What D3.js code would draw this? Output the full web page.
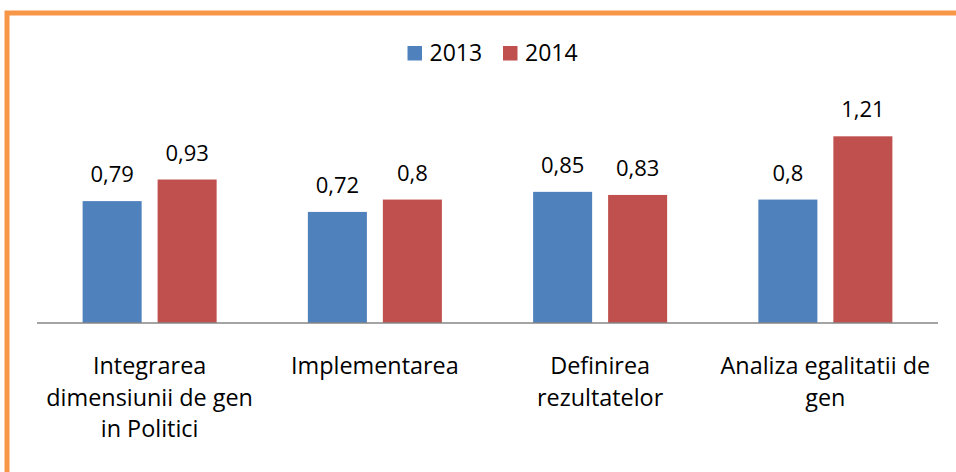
<!DOCTYPE html>
<html>
<head>
<meta charset="utf-8">
<script src="https://cdn.jsdelivr.net/npm/d3@7"></script>
<style>
  body { margin: 0; background: #fff; }
  svg text { font-family: "Open Sans", "Noto Sans", sans-serif; fill: #000; }
</style>
</head>
<body>
<svg id="chart" width="956" height="472"></svg>
<script>
// data
var categories = ["Integrarea dimensiunii de gen in Politici", "Implementarea", "Definirea rezultatelor", "Analiza egalitatii de gen"];
var categoryLines = [
  ["Integrarea", "dimensiunii de gen", "in Politici"],
  ["Implementarea"],
  ["Definirea", "rezultatelor"],
  ["Analiza egalitatii de", "gen"]
];
var seriesNames = ["2013", "2014"];
var values2013 = [0.79, 0.72, 0.85, 0.8];
var values2014 = [0.93, 0.8, 0.83, 1.21];
var colors = ["#4F81BD", "#C0504D"];

var svg = d3.select("svg#chart");

//Orange frame (top and left only visible)
svg.append("path")
    .attr("d", "M7,472 V13 H956")
    .attr("fill", "none")
    .attr("stroke", "#F79646")
    .attr("stroke-width", 5);

var baseY = 323, left = 37, right = 938;

var x0 = d3.scaleBand()
    .domain(categories)
    .range([left, right])
    .paddingInner(0.405)
    .paddingOuter(0.2025);

var x1 = d3.scaleBand()
    .domain(seriesNames)
    .range([0, x0.bandwidth()])
    .paddingInner(0.213);

var y = d3.scaleLinear()
    .domain([0, 1.4])
    .range([baseY, baseY - 216]);

//Build rows for each category
var rows = categories.map(function (c, i) {
  return { cat: c, vals: [values2013[i], values2014[i]] };
});

var groups = svg.selectAll(".grp")
  .data(rows)
  .enter().append("g")
    .attr("class", "grp")
    .attr("transform", function (d) { return "translate(" + x0(d.cat) + ",0)"; });

var bars = groups.selectAll("g.bar")
  .data(function (d) { return d.vals.map(function (v, j) { return { s: seriesNames[j], v: v, j: j }; }); })
  .enter().append("g")
    .attr("class", "bar");

bars.append("rect")
    .attr("x", function (d) { return x1(d.s); })
    .attr("y", function (d) { return y(d.v); })
    .attr("width", x1.bandwidth())
    .attr("height", function (d) { return baseY - y(d.v); })
    .attr("fill", function (d) { return colors[d.j]; });

bars.append("text")
    .attr("x", function (d) { return x1(d.s) + x1.bandwidth() / 2; })
    .attr("y", function (d) { return y(d.v) - 19; })
    .attr("text-anchor", "middle")
    .style("font-size", "22px")
    .text(function (d) { return String(d.v).replace(".", ","); });

//Category axis line
svg.append("line")
    .attr("x1", left).attr("x2", right)
    .attr("y1", baseY).attr("y2", baseY)
    .attr("stroke", "#868686")
    .attr("stroke-width", 1.5);

//Category labels
svg.selectAll(".catLabel")
  .data(categories)
  .enter().append("text")
    .attr("class", "catLabel")
    .attr("text-anchor", "middle")
    .style("font-size", "23.4px")
  .selectAll("tspan")
  .data(function (d, i) { return categoryLines[i].map(function (l) { return { l: l, c: d }; }); })
  .enter().append("tspan")
    .attr("x", function (d) { return x0(d.c) + x0.bandwidth() / 2; })
    .attr("y", function (d, i) { return 374 + i * 31.5; })
    .text(function (d) { return d.l; });

//Legend
var legend = svg.selectAll(".legend")
  .data(seriesNames)
  .enter().append("g")
    .attr("class", "legend")
    .attr("transform", function (d, i) { return "translate(" + (407.5 + i * 95.5) + ",46)"; });

legend.append("rect")
    .attr("width", 14.5)
    .attr("height", 14.5)
    .attr("fill", function (d, i) { return colors[i]; });

legend.append("text")
    .attr("x", 22)
    .attr("y", 14.7)
    .style("font-size", "23px")
    .text(function (d) { return d; });
</script>
</body>
</html>
